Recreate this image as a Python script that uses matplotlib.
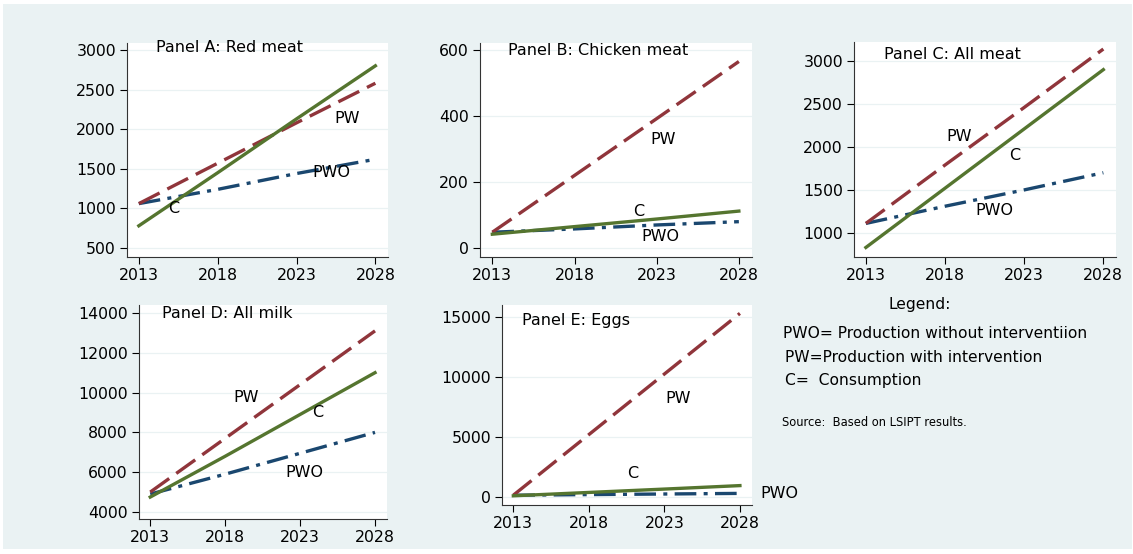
import matplotlib
matplotlib.use("Agg")
import matplotlib.pyplot as plt
from matplotlib.patches import Rectangle

# data (values at 5 year steps)
years = [2013, 2018, 2023, 2028]

red_pw = [1060, 1570, 2080, 2580]
red_pwo = [1060, 1240, 1440, 1620]
red_c = [780, 1450, 2130, 2800]

chicken_pw = [48, 220, 392, 565]
chicken_pwo = [48, 58, 70, 80]
chicken_c = [42, 65, 88, 112]

allmeat_pw = [1110, 1790, 2460, 3140]
allmeat_pwo = [1110, 1310, 1500, 1700]
allmeat_c = [830, 1520, 2210, 2900]

milk_pw = [5000, 7700, 10400, 13100]
milk_pwo = [4900, 5900, 6950, 8000]
milk_c = [4750, 6800, 8900, 11000]

eggs_pw = [150, 5200, 10250, 15300]
eggs_pwo = [150, 200, 250, 300]
eggs_c = [100, 380, 660, 950]

panel_titles = [
    "Panel A: Red meat",
    "Panel B: Chicken meat",
    "Panel C: All meat",
    "Panel D: All milk",
    "Panel E: Eggs",
]

x_ticks = [2013, 2018, 2023, 2028]

W, H = 1133, 554
BG = "#EAF2F3"
PW_COL = "#90353B"
PWO_COL = "#1A476F"
C_COL = "#55752F"

plt.rcParams["font.family"] = ["DejaVu Sans"]

fig = plt.figure(figsize=(W / 100, H / 100), dpi=100)
fig.patch.set_facecolor("white")

# light background area of the graph
fig.patches.append(
    Rectangle((3 / W, 5 / H), 1129 / W, 545 / H,
              transform=fig.transFigure, facecolor=BG,
              edgecolor="none", zorder=-10)
)


def px_axes(left, top, right, bottom):
    return fig.add_axes([left / W, 1 - bottom / H,
                         (right - left) / W, (bottom - top) / H])


def draw_panel(box, pw, pwo, c, title, title_pos, yticks, ylim, labels):
    ax = px_axes(*box)
    ax.set_facecolor("white")

    ax.plot(years, pwo, color=PWO_COL, lw=2.4,
            linestyle=(0, (6.5, 2.2, 1.2, 2.2)))
    ax.plot(years, pw, color=PW_COL, lw=2.4,
            linestyle=(0, (7, 2.6)))
    ax.plot(years, c, color=C_COL, lw=2.4)

    ax.set_xlim(2012.25, 2028.8)
    ax.set_ylim(*ylim)
    ax.set_xticks(x_ticks)
    ax.set_yticks(yticks)
    ax.tick_params(direction="out", length=5, width=0.8,
                   labelsize=11.3, colors="black", pad=3)
    ax.grid(axis="y", color=BG, lw=0.9)
    ax.set_axisbelow(True)

    for side in ["top", "right"]:
        ax.spines[side].set_visible(False)
    for side in ["left", "bottom"]:
        ax.spines[side].set_color("#333333")
        ax.spines[side].set_linewidth(0.8)

    ax.text(title_pos[0], title_pos[1], title, transform=ax.transAxes,
            fontsize=11.5, va="center", ha="left")

    for txt, x, y in labels:
        ax.text(x, y, txt, fontsize=11.5, ha="center", va="center",
                clip_on=False)
    return ax


draw_panel((127, 43, 388, 257), red_pw, red_pwo, red_c, panel_titles[0],
           (0.11, 0.981), [500, 1000, 1500, 2000, 2500, 3000], (386, 3088),
           [("PW", 2026.2, 2130), ("PWO", 2025.2, 1450), ("C", 2015.2, 1000)])

draw_panel((480, 43, 752, 257), chicken_pw, chicken_pwo, chicken_c,
           panel_titles[1], (0.103, 0.963), [0, 200, 400, 600], (-27, 621),
           [("PW", 2023.4, 330), ("C", 2021.9, 110), ("PWO", 2023.2, 35)])

draw_panel((854, 42, 1116, 257), allmeat_pw, allmeat_pwo, allmeat_c,
           panel_titles[2], (0.115, 0.944), [1000, 1500, 2000, 2500, 3000],
           (719, 3222),
           [("PW", 2018.9, 2120), ("C", 2022.4, 1900), ("PWO", 2021.1, 1260)])

draw_panel((139, 305, 387, 519), milk_pw, milk_pwo, milk_c,
           panel_titles[3], (0.093, 0.958),
           [4000, 6000, 8000, 10000, 12000, 14000], (3648, 14400),
           [("PW", 2019.4, 9750), ("C", 2024.2, 9000), ("PWO", 2023.3, 6000)])

draw_panel((502, 305, 752, 505), eggs_pw, eggs_pwo, eggs_c,
           panel_titles[4], (0.08, 0.92), [0, 5000, 10000, 15000],
           (-667, 16000),
           [("PW", 2023.9, 8200), ("C", 2020.9, 1950), ("PWO", 2030.6, 250)])

# legend notes on the right
fig.text(920 / W, 1 - 304 / H, "Legend:", fontsize=11.2,
         ha="center", va="center")
fig.text(783 / W, 1 - 333 / H, "PWO= Production without interventiion",
         fontsize=11.2, ha="left", va="center")
fig.text(785 / W, 1 - 357 / H, "PW=Production with intervention",
         fontsize=11.2, ha="left", va="center")
fig.text(785 / W, 1 - 380 / H, "C=  Consumption",
         fontsize=11.2, ha="left", va="center")
fig.text(782 / W, 1 - 422 / H, "Source:  Based on LSIPT results.",
         fontsize=8.3, ha="left", va="center")

fig.savefig("out.png", dpi=100, facecolor=fig.get_facecolor())
